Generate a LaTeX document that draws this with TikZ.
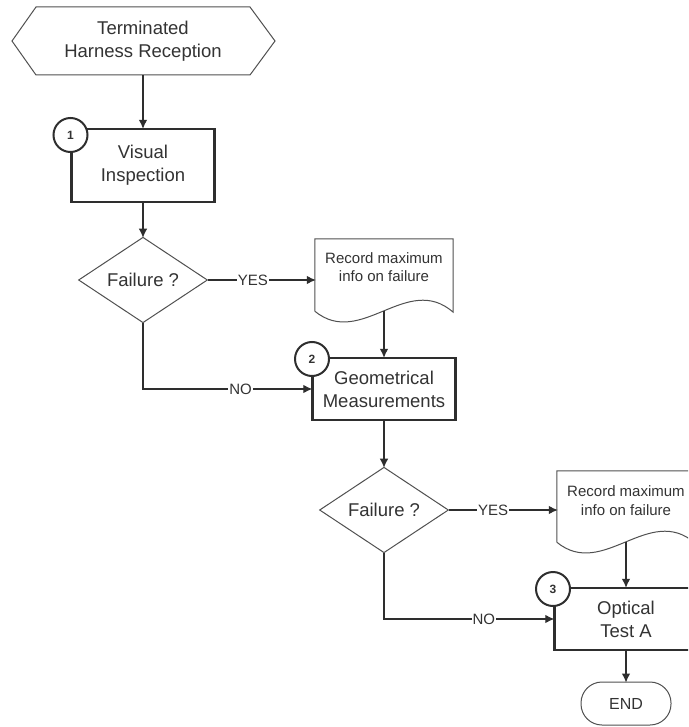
\documentclass[tikz,border=0pt]{standalone}
\usepackage{fontspec}
\setmainfont{Liberation Sans}
\usetikzlibrary{shapes.geometric,arrows.meta}
\definecolor{ln}{HTML}{2E2E2E}
\definecolor{sl}{HTML}{505050}
\definecolor{tx}{HTML}{333333}
\tikzset{
 main/.style={font=\fontsize{18.5}{23}\selectfont, text=tx, align=center},
 small/.style={font=\fontsize{15}{18.5}\selectfont, text=tx, align=center},
 procbox/.style={main, draw=ln, line width=2.4pt, fill=white, minimum width=143pt, minimum height=#1, inner sep=0pt},
 numcirc/.style={circle, draw=ln, line width=2pt, fill=white, minimum size=34pt, inner sep=0pt, font=\fontsize{12}{14}\selectfont\bfseries, text=tx},
 decision/.style={main, diamond, draw=sl, line width=1pt, fill=white, minimum width=129pt, minimum height=81pt, inner sep=0pt},
 frame/.style={minimum width=138pt, minimum height=#1, inner sep=0pt},
 conn/.style={draw=ln, line width=1.1pt, -{Latex[length=9pt,width=8.5pt]}, shorten >=-1pt},
 shapeline/.style={draw=sl, line width=1pt, fill=white},
 lbl/.style={small, fill=white, inner sep=1pt},
 endbox/.style={draw=sl, line width=1pt, rounded corners=21pt, minimum width=90pt, minimum height=43pt, inner sep=0pt, font=\fontsize{16}{19}\selectfont, text=tx},
}
\begin{document}
\begin{tikzpicture}[x=1pt,y=-1pt]
\clip (0,0) rectangle (688,727);
\fill[white] (0,0) rectangle (688,727);

% start hexagon
\draw[shapeline] (12,41) -- (36,7) -- (250,7) -- (275,41) -- (250,75) -- (36,75) -- cycle;
\node[main, minimum width=263pt, minimum height=68pt, inner sep=0pt] (start) at (143,41) {Terminated\\Harness Reception};

% step 1
\node[procbox=73pt] (box1) at (143,165.5) {Visual\\Inspection};

\node[decision] (d1) at (143,280) {Failure ?};

% record 1
\node[frame=72pt] (rec1) at (384,275) {};
\draw[shapeline] (rec1.south west) -- (rec1.north west) -- (rec1.north east) -- ([yshift=-1pt]rec1.south east)
  .. controls (407,272) and (361,349) .. (rec1.south west);
\node[small] (rec1t) at (384,267) {Record maximum\\info on failure};
\coordinate (rec1b) at (384,311);

% step 2
\node[procbox=62pt] (box2) at (384,389) {Geometrical\\Measurements};

\node[decision] (d2) at (384,510) {Failure ?};

% record 2
\node[frame=71pt] (rec2) at (626,506.5) {};
\draw[shapeline] (rec2.south west) -- (rec2.north west) -- (rec2.north east) -- ([yshift=-1pt]rec2.south east)
  .. controls (649,503) and (603,580) .. (rec2.south west);
\node[small] (rec2t) at (626,500.5) {Record maximum\\info on failure};
\coordinate (rec2b) at (626,542);

% step 3
\node[procbox=62pt] (box3) at (626,619) {Optical\\Test A};

\node[endbox] (end) at (626,703.5) {END};

% connectors
\draw[conn] (start.south) -- (box1.north);
\draw[conn] (box1.south) -- (d1.north);
\draw[conn] (d1.east) -- node[lbl, pos=0.42] {YES} (d1.east -| rec1.west);
\draw[conn] (rec1b) -- (box2.north);
\draw[conn] (d1.south) -- (d1.south |- box2.west) -- node[lbl, pos=0.58] {NO} (box2.west);
\draw[conn] (box2.south) -- (d2.north);
\draw[conn] (d2.east) -- node[lbl, pos=0.41] {YES} (d2.east -| rec2.west);
\draw[conn] (rec2b) -- (box3.north);
\draw[conn] (d2.south) -- (d2.south |- box3.west) -- node[lbl, pos=0.59] {NO} (box3.west);
\draw[conn] (box3.south) -- (end.north);

% step number circles on top
\node[numcirc] (c1) at (70.5,135) {1};
\node[numcirc] (c2) at (312,359) {2};
\node[numcirc] (c3) at (553,589) {3};
\end{tikzpicture}
\end{document}
